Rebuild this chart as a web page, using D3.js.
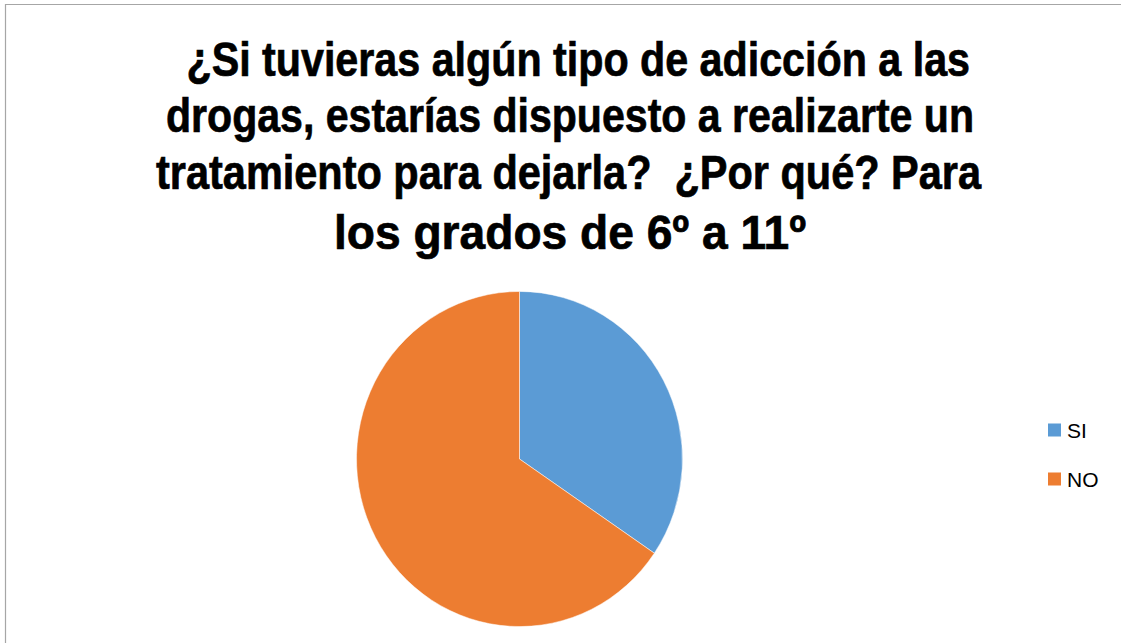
<!DOCTYPE html>
<html>
<head>
<meta charset="utf-8">
<script src="https://cdn.jsdelivr.net/npm/d3@7"></script>
<style>
  html, body { margin: 0; padding: 0; background: #fff; }
  svg { display: block; }
</style>
</head>
<body>
<script>
const categories = ["SI", "NO"];
const values = [34.5, 65.5];
const colors = ["#5B9BD5", "#ED7D31"];
const titleLines = [
  " ¿Si tuvieras algún tipo de adicción a las",
  "drogas, estarías dispuesto a realizarte un",
  "tratamiento para dejarla?  ¿Por qué? Para",
  "los grados de 6º a 11º"
];

const W = 1121, H = 643;
const svg = d3.select("body").append("svg").attr("width", W).attr("height", H);

// frame
svg.append("path")
  .attr("d", `M5.5,${H} L5.5,4.5 L${W},4.5`)
  .attr("fill", "none").attr("stroke", "#a6a6a6").attr("stroke-width", 1.2);

// title
const titleBoxes = [
  { x: 175, w: 795, y: 76, fs: 48 },
  { x: 166, w: 808, y: 132, fs: 48 },
  { x: 156, w: 825, y: 189, fs: 48 },
  { x: 334, w: 472, y: 249, fs: 48 }
];
svg.append("g").selectAll("text").data(titleLines).join("text")
  .attr("x", (d, i) => titleBoxes[i].x)
  .attr("y", (d, i) => titleBoxes[i].y)
  .attr("textLength", (d, i) => titleBoxes[i].w)
  .attr("lengthAdjust", "spacingAndGlyphs")
  .attr("font-family", "Liberation Sans, Arial, sans-serif")
  .attr("font-weight", "bold")
  .attr("font-size", (d, i) => titleBoxes[i].fs)
  .attr("fill", "#000")
  .attr("stroke", "#000")
  .attr("stroke-width", 0.7)
  .style("white-space", "pre")
  .text(d => d);

// pie
const cx = 519.5, cy = 459, r = 163;
const pie = d3.pie().sort(null).value(d => d)(values);
const arc = d3.arc().innerRadius(0).outerRadius(r);
const g = svg.append("g").attr("transform", `translate(${cx},${cy}) scale(1,1.028)`);
g.selectAll("path").data(pie).join("path")
  .attr("d", arc)
  .attr("fill", (d, i) => colors[i])
  .attr("stroke", "#fff").attr("stroke-width", 0.5);

// legend
const legendY = d3.scalePoint().domain(categories).range([430, 479]);
const lg = svg.append("g");
lg.selectAll("rect").data(categories).join("rect")
  .attr("x", 1048).attr("y", d => legendY(d) - 6.5)
  .attr("width", 13).attr("height", 13)
  .attr("fill", (d, i) => colors[i]);
lg.selectAll("text").data(categories).join("text")
  .attr("x", 1067).attr("y", d => legendY(d) + 7.5)
  .attr("font-family", "Liberation Sans, Arial, sans-serif")
  .attr("font-size", 21)
  .attr("fill", "#000")
  .text(d => d);
</script>
</body>
</html>
